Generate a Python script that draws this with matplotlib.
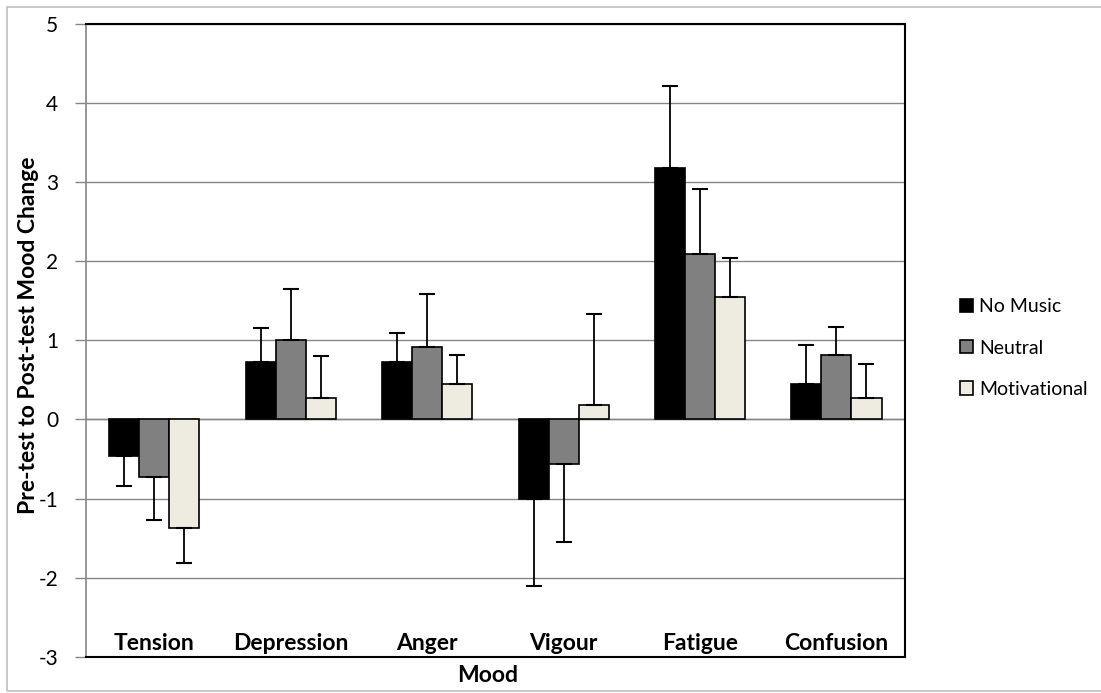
import numpy as np
import matplotlib
matplotlib.use('Agg')
import matplotlib.pyplot as plt
from matplotlib.patches import Patch, Rectangle

plt.rcParams['font.family'] = ['Lato', 'DejaVu Sans']
plt.rcParams['axes.unicode_minus'] = False

# données
moods = ['Tension', 'Depression', 'Anger', 'Vigour', 'Fatigue', 'Confusion']
series = ['No Music', 'Neutral', 'Motivational']
no_music = [-0.46, 0.73, 0.73, -1.01, 3.18, 0.45]
neutral = [-0.73, 1.00, 0.91, -0.56, 2.09, 0.82]
motivational = [-1.37, 0.27, 0.45, 0.18, 1.55, 0.27]
err_no_music = [0.38, 0.43, 0.36, 1.09, 1.03, 0.49]
err_neutral = [0.54, 0.65, 0.67, 0.99, 0.83, 0.35]
err_motivational = [0.45, 0.53, 0.36, 1.15, 0.49, 0.43]
y_ticks = [-3, -2, -1, 0, 1, 2, 3, 4, 5]

colors = ['#000000', '#808080', '#EEECE1']
values = [no_music, neutral, motivational]
errors = [err_no_music, err_neutral, err_motivational]

fig = plt.figure(figsize=(11.01, 6.93), dpi=100)
ax = fig.add_axes([86 / 1101, 36.3 / 693, 818.7 / 1101, 632.7 / 693])

x = np.arange(len(moods))
w = 0.22
for i, (vals, errs) in enumerate(zip(values, errors)):
    vals = np.array(vals)
    errs = np.array(errs)
    # barres d'erreur d'un seul côté (sens de la barre)
    lower = np.where(vals < 0, errs, 0)
    upper = np.where(vals >= 0, errs, 0)
    ax.bar(x + (i - 1) * w, vals, w, color=colors[i], edgecolor='black',
           linewidth=1.2, zorder=3)
    ax.errorbar(x + (i - 1) * w, vals, yerr=[lower, upper], fmt='none',
                ecolor='black', elinewidth=1.3, capsize=6, capthick=1.5, zorder=4)

ax.set_xlim(-0.5, len(moods) - 0.5)
ax.set_ylim(-3, 5)
ax.set_yticks(y_ticks)
ax.set_xticks([])
ax.tick_params(axis='y', length=8, width=1, color='#868686', pad=12, labelsize=15)
ax.yaxis.grid(True, color='#868686', linewidth=1)
ax.set_axisbelow(True)
ax.axhline(0, color='#868686', linewidth=1, zorder=2)

ax.spines['left'].set_color('#868686')
ax.spines['left'].set_linewidth(1.2)
for s in ['top', 'right', 'bottom']:
    ax.spines[s].set_color('black')
    ax.spines[s].set_linewidth(1.5)

# étiquettes des catégories dans la zone de tracé
for xi, m in zip(x, moods):
    ax.text(xi, 0.0106, m, transform=ax.get_xaxis_transform(), ha='center',
            va='baseline', fontsize=16.5, fontweight='bold')

fig.text(488 / 1101, 11 / 693, 'Mood', ha='center', va='baseline',
         fontsize=16.5, fontweight='bold')
fig.text(29 / 1101, (693 - 335) / 693, 'Pre-test to Post-test Mood Change',
         rotation=90, ha='center', va='center', fontsize=16.5, fontweight='bold')

handles = [Patch(facecolor=c, edgecolor='black', linewidth=1.2) for c in colors]
fig.legend(handles, series, loc='center left',
           bbox_to_anchor=(960 / 1101, (693 - 348) / 693), frameon=False,
           fontsize=14, handlelength=0.67, handleheight=0.67, handletextpad=0.3,
           labelspacing=1.25, borderpad=0, borderaxespad=0)

fig.patches.append(Rectangle((7 / 1101, 2 / 693), 1, 684 / 693, transform=fig.transFigure,
                             fill=False, edgecolor='#bfbfbf', linewidth=1.2))

plt.savefig('out.png', dpi=100)
